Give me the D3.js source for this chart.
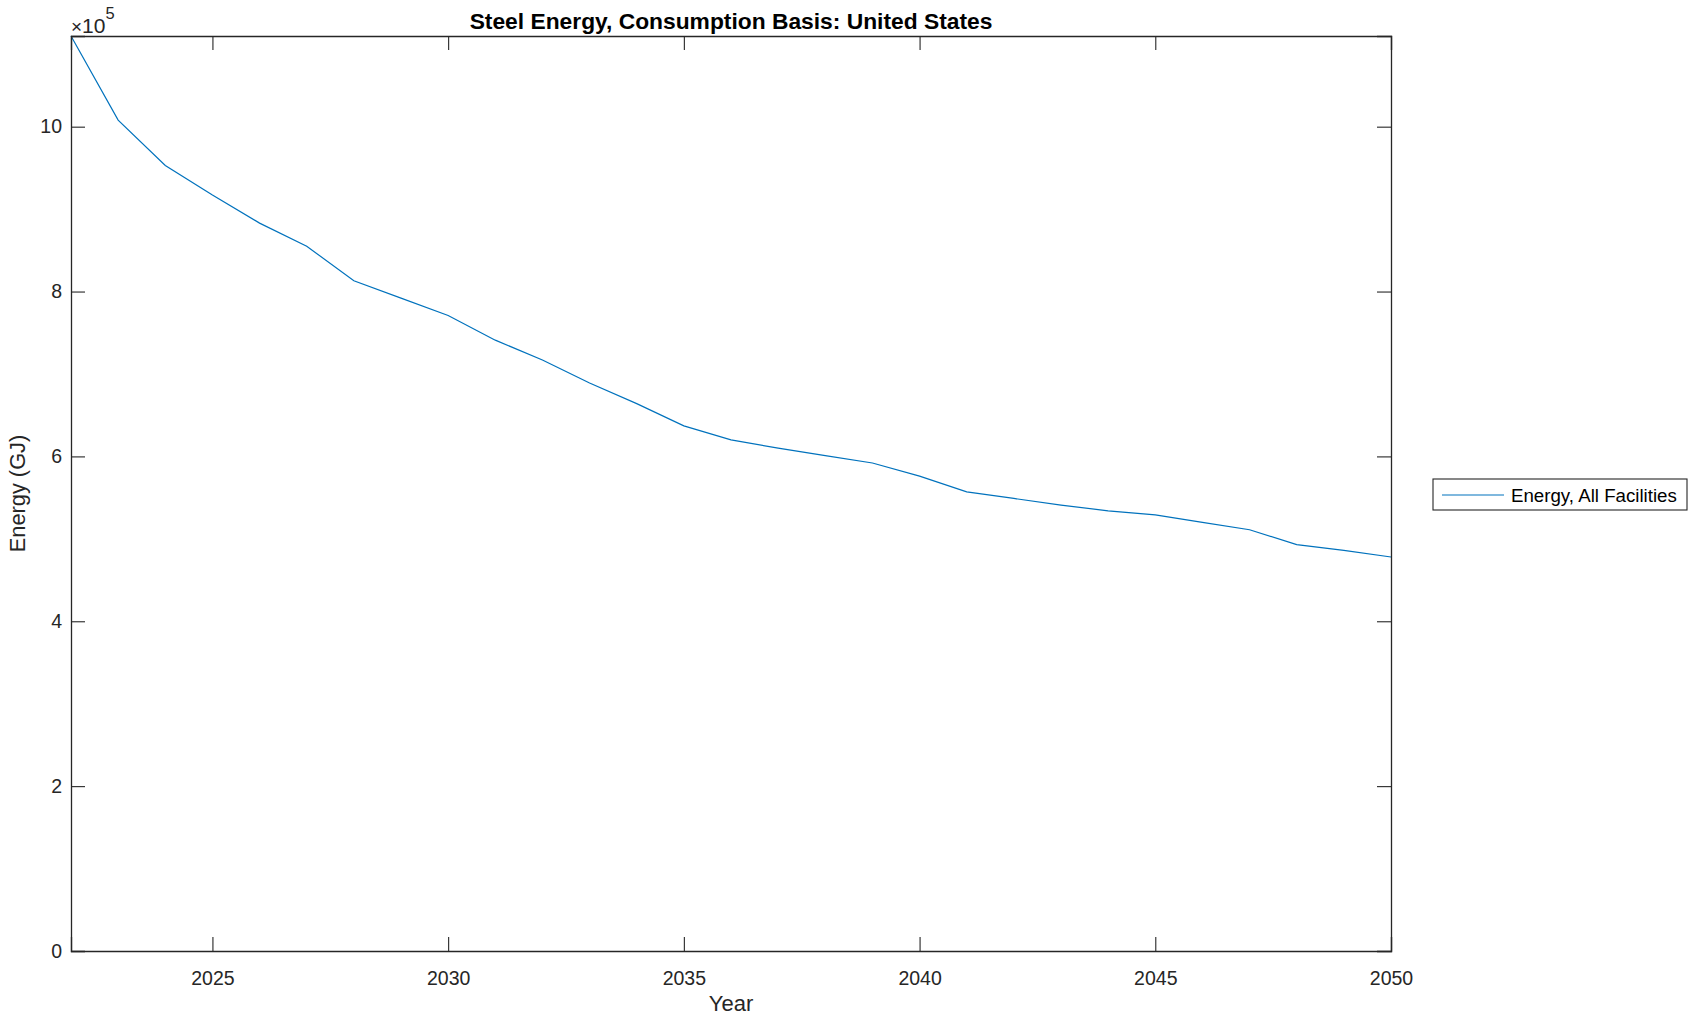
<!DOCTYPE html>
<html>
<head>
<meta charset="utf-8">
<script src="https://cdn.jsdelivr.net/npm/d3@7"></script>
<style>
  body { margin: 0; background: #fff; }
  svg text { font-family: "Liberation Sans", Arial, Helvetica, sans-serif; }
</style>
</head>
<body>
<svg id="chart" width="1698" height="1022"></svg>
<script>
// values (GJ)
var years = [2022, 2023, 2024, 2025, 2026, 2027, 2028, 2029, 2030, 2031,
             2032, 2033, 2034, 2035, 2036, 2037, 2038, 2039, 2040, 2041,
             2042, 2043, 2044, 2045, 2046, 2047, 2048, 2049, 2050];
var energy = [1110000, 1008000, 953000, 917000, 883000, 855000, 813000, 792000, 771000, 741000,
              717000, 689000, 664000, 637000, 620000, 610000, 601000, 592000, 576000, 557000,
              549000, 541000, 534000, 529000, 520000, 511000, 493000, 486000, 478000];
var xTicks = [2025, 2030, 2035, 2040, 2045, 2050];
var yTicks = [0, 200000, 400000, 600000, 800000, 1000000];
var seriesName = "Energy, All Facilities";

var ink = "#262626", blue = "#0072BD";
// plot box edges (note: "top" is reserved on window, so use px* names)
var pxL = 71, pxR = 1391, pxT = 36, pxB = 951;

var svg = d3.select("#chart");
var x = d3.scaleLinear().domain([2022, 2050]).range([pxL, pxR]);
var y = d3.scaleLinear().domain([0, d3.max(energy)]).range([pxB, pxT]);

var data = years.map(function(yr, i) { return { year: yr, value: energy[i] }; });

// line
svg.append("path")
  .datum(data)
  .attr("fill", "none")
  .attr("stroke", blue)
  .attr("stroke-width", 1.2)
  .attr("d", d3.line().x(function(d) { return x(d.year); }).y(function(d) { return y(d.value); }));

// axes, ticks inward, box on
var fmtY = function(d) { return d / 100000; };
svg.append("g").attr("transform", "translate(0," + pxB + ")")
  .call(d3.axisBottom(x).tickValues(xTicks).tickSize(-14).tickPadding(20).tickFormat(d3.format("d")));
svg.append("g").attr("transform", "translate(0," + pxT + ")")
  .call(d3.axisTop(x).tickValues(xTicks).tickSize(-14).tickFormat(""));
svg.append("g").attr("transform", "translate(" + pxL + ",0)")
  .call(d3.axisLeft(y).tickValues(yTicks).tickSize(-14).tickPadding(9).tickFormat(fmtY));
svg.append("g").attr("transform", "translate(" + pxR + ",0)")
  .call(d3.axisRight(y).tickValues(yTicks).tickSize(-14).tickFormat(""));

svg.selectAll(".domain").attr("stroke", ink).attr("stroke-width", 1.3);
svg.selectAll(".tick line").attr("stroke", ink).attr("stroke-width", 1.1);
svg.selectAll(".tick text").attr("fill", ink).attr("font-size", 19.5)
  .attr("font-family", "Liberation Sans, Arial, sans-serif");

// exponent label
var ex = svg.append("text").attr("x", 71).attr("y", 32.5).attr("fill", ink).attr("font-size", 21);
ex.append("tspan").attr("font-size", 19).text("\u00d7");
ex.append("tspan").text("10");
ex.append("tspan").attr("dy", -14).attr("font-size", 16.5).text("5");

// title and labels
svg.append("text").attr("x", (pxL + pxR) / 2).attr("y", 29)
  .attr("text-anchor", "middle").attr("font-weight", "bold").attr("font-size", 22.8).attr("fill", "#000")
  .text("Steel Energy, Consumption Basis: United States");
svg.append("text").attr("x", (pxL + pxR) / 2).attr("y", 1011)
  .attr("text-anchor", "middle").attr("font-size", 22).attr("fill", ink).text("Year");
svg.append("text").attr("transform", "translate(25," + (pxT + pxB) / 2 + ") rotate(-90)")
  .attr("text-anchor", "middle").attr("font-size", 21.8).attr("fill", ink).text("Energy (GJ)");

// legend
var lg = svg.append("g").attr("transform", "translate(1433,479)");
lg.append("rect").attr("width", 254).attr("height", 31).attr("fill", "#fff")
  .attr("stroke", ink).attr("stroke-width", 1.1);
lg.append("line").attr("x1", 9).attr("x2", 71).attr("y1", 16).attr("y2", 16)
  .attr("stroke", blue).attr("stroke-width", 1.2);
lg.append("text").attr("x", 78).attr("y", 22.5).attr("font-size", 18.7).attr("fill", "#000").text(seriesName);
</script>
</body>
</html>
